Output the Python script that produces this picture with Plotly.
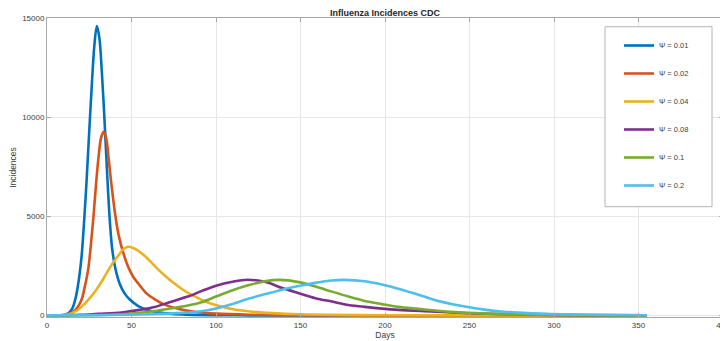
import plotly.graph_objects as go

# ---- data ----
labels = ["Ψ = 0.01", "Ψ = 0.02", "Ψ = 0.04", "Ψ = 0.08", "Ψ = 0.1", "Ψ = 0.2"]
colors = ["#0072BD", "#D95319", "#EDB120", "#7E2F8E", "#77AC30", "#4DBEEE"]

days_001 = [0, 8, 11, 13, 15, 17, 19, 20.5, 22, 23.5, 25, 26.5, 28, 29.5, 31, 32.5, 34, 35.5, 37,
            38.5, 40.5, 43, 46, 49, 54, 60, 68, 80, 95, 120, 160, 355]
vals_001 = [0, 10, 50, 130, 350, 900, 1900, 3000, 4800, 6900, 9300, 11600, 13600, 14600, 14000, 12200,
            9900, 7300, 5000, 3400, 2350, 1600, 1100, 800, 470, 260, 130, 50, 15, 3, 0, 0]

days_002 = [0, 8, 12, 15, 18, 20.5, 22.5, 24.5, 26, 27.5, 29, 30.5, 32, 33.5, 35, 36.5, 38, 40.5,
            42.5, 45.5, 48, 51, 55, 59, 64, 70, 78, 88, 100, 120, 150, 200, 355]
vals_002 = [0, 10, 50, 150, 400, 800, 1500, 2400, 3600, 5000, 6600, 8000, 8950, 9260, 8950, 7900,
            6700, 5000, 4000, 3050, 2450, 1950, 1500, 1100, 800, 530, 320, 170, 90, 35, 10, 0, 0]

days_004 = [0, 8, 12, 15, 18, 21, 24, 27, 30, 33, 36, 39, 42, 45, 48, 51, 54, 58, 62, 66, 70, 75,
            80, 85, 90, 96, 102, 110, 120, 130, 145, 165, 200, 250, 355]
vals_004 = [0, 10, 50, 130, 260, 480, 750, 1050, 1400, 1800, 2250, 2650, 3000, 3330, 3460, 3400, 3260,
            2980, 2650, 2300, 1990, 1630, 1320, 1060, 850, 630, 470, 310, 200, 130, 70, 30, 8, 0, 0]

days_008 = [0, 10, 20, 30, 44, 55, 63.7, 73, 83.3, 92, 100, 109.8, 118.6, 129.4, 139.2, 149, 158.8,
            168.6, 178.4, 188, 207.8, 227.4, 250, 280, 320, 355]
vals_008 = [0, 10, 30, 80, 150, 280, 420, 680, 950, 1250, 1500, 1700, 1800, 1680, 1380, 1120, 870,
            700, 530, 430, 280, 200, 110, 50, 15, 5]

days_01 = [0, 20, 44, 63.7, 73, 83.3, 92, 100, 109.8, 119.6, 129.4, 137.5, 149, 158.8, 168.6, 178.4,
           188, 198, 207.8, 219.6, 239, 260, 280, 320, 355]
vals_01 = [0, 10, 60, 220, 350, 500, 680, 950, 1270, 1530, 1730, 1790, 1680, 1460, 1200, 950,
           730, 570, 430, 330, 180, 90, 45, 10, 3]

days_02 = [0, 20, 40, 60, 80, 90, 100, 109.8, 119.6, 129.4, 139.2, 149, 158.8, 168.6, 176, 188, 198,
           207.8, 217.6, 229.4, 239.2, 249, 258.8, 268.6, 278, 298, 320, 355]
vals_02 = [0, 5, 20, 60, 130, 200, 350, 580, 850, 1080, 1300, 1480, 1640, 1760, 1790, 1720, 1560,
           1350, 1100, 780, 580, 420, 290, 200, 140, 70, 30, 10]

series_days = [days_001, days_002, days_004, days_008, days_01, days_02]
series_vals = [vals_001, vals_002, vals_004, vals_008, vals_01, vals_02]

x_ticks = [0, 50, 100, 150, 200, 250, 300, 350, 400]
y_ticks = [0, 5000, 10000, 15000]

FONT = "Liberation Sans, Arial, Helvetica, sans-serif"
OFF = 8                      # default page body margin in the browser
W, H = 728 - OFF, 341 - OFF
L, R, T, B = 47 - OFF, 5, 18 - OFF, 24
pw, ph = W - L - R, H - T - B

fig = go.Figure()
for name, col, d, v in zip(labels, colors, series_days, series_vals):
    fig.add_trace(go.Scatter(
        x=d, y=v, mode="lines", name=name, legendgroup=name,
        line=dict(color=col, width=2.6, shape="spline", smoothing=0.9),
    ))

def px_x(p):
    return (p - OFF - L) / pw

def px_y(p):
    return (H - B - (p - OFF)) / ph

# legend box
fig.add_shape(type="rect", xref="paper", yref="paper",
              x0=px_x(605), x1=px_x(712), y0=px_y(206.7), y1=px_y(26.7),
              line=dict(color="#b4b4b4", width=1), fillcolor="white", layer="above")

fig.update_layout(
    width=W, height=H,
    margin=dict(l=L, r=R, t=T, b=B, pad=0),
    paper_bgcolor="white", plot_bgcolor="white",
    font=dict(family=FONT, size=8, color="#404040"),
    title=dict(text="<b>Influenza Incidences CDC</b>", x=0.5, xref="paper",
               y=1 - (12.5 - OFF) / H, yref="container", yanchor="middle", xanchor="center",
               font=dict(size=9, color="#262626", family=FONT)),
    showlegend=True,
    legend=dict(x=px_x(619), y=px_y(31), xanchor="left", yanchor="top",
                bgcolor="rgba(0,0,0,0)", borderwidth=0,
                font=dict(size=7.5, color="#404040", family=FONT),
                tracegroupgap=9, itemwidth=30),
    xaxis=dict(range=[0, 400], tickvals=x_ticks, ticktext=[str(t) for t in x_ticks],
               automargin=False, ticklabeloverflow="allow",
               showgrid=True, gridcolor="#e6e6e6", gridwidth=1,
               showline=True, linecolor="#a8a8a8", linewidth=1, mirror="ticks",
               ticks="inside", ticklen=4, tickcolor="#a8a8a8",
               zeroline=False, tickfont=dict(size=8, color="#404040"),
               title=dict(text="Days", standoff=2, font=dict(size=8.5, color="#404040"))),
    yaxis=dict(range=[-80, 15000], tickvals=y_ticks, ticktext=[str(t) for t in y_ticks],
               automargin=False,
               showgrid=True, gridcolor="#e6e6e6", gridwidth=1,
               showline=True, linecolor="#a8a8a8", linewidth=1, mirror="ticks",
               ticks="inside", ticklen=4, tickcolor="#a8a8a8",
               zeroline=False, tickfont=dict(size=8, color="#404040"),
               title=dict(text="Incidences", standoff=6, font=dict(size=8.5, color="#404040"))),
)

fig.write_html("out.html")
